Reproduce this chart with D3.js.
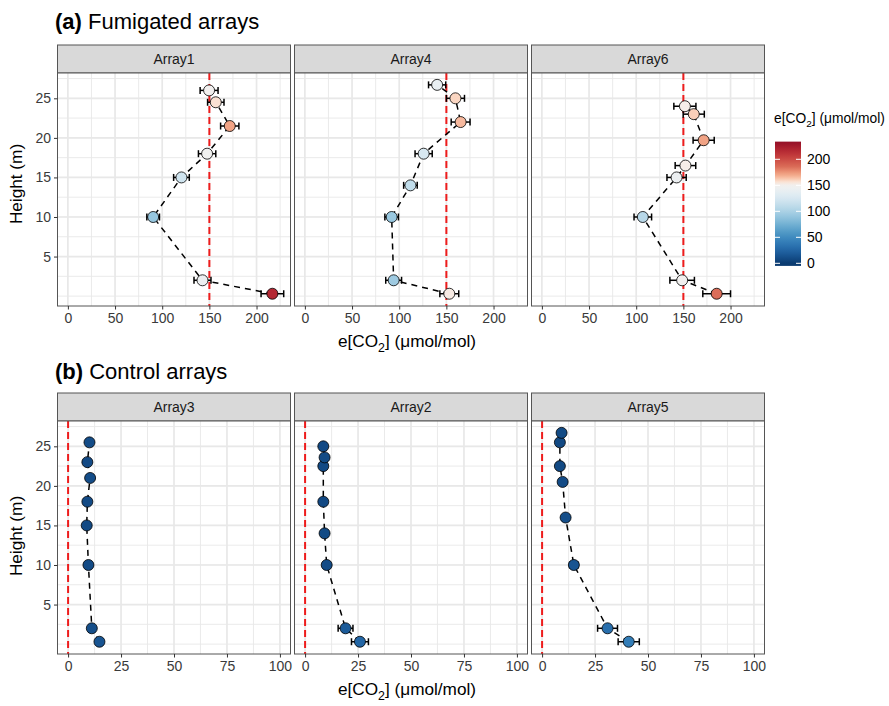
<!DOCTYPE html>
<html><head><meta charset="utf-8">
<script src="https://cdn.jsdelivr.net/npm/d3@7/dist/d3.min.js"></script>
<style>body{margin:0;background:#fff}svg{display:block;font-family:"Liberation Sans",Arial,Helvetica,sans-serif}</style>
</head><body><svg id="c" width="889" height="706"></svg>
<script>
// ---------- data ----------
const fumigatedNames = ["Array1", "Array4", "Array6"];
const controlNames = ["Array3", "Array2", "Array5"];

const heightA1 = [26.0, 24.5, 21.5, 18.0, 15.0, 10.0, 2.0, 0.3];
const co2A1    = [149.7, 156.8, 171.6, 147.6, 120.4, 90.4, 142.7, 216.8];
const seA1     = [9.5, 8.7, 9.7, 9.2, 8.3, 6.7, 9.0, 12.0];

const heightA4 = [26.7, 25.0, 22.0, 18.0, 14.0, 10.0, 2.0, 0.3];
const co2A4    = [140.2, 159.6, 165.1, 125.9, 111.9, 92.0, 94.1, 153.1];
const seA4     = [9.1, 9.6, 10.0, 9.1, 7.2, 7.2, 8.4, 10.0];

const heightA6 = [24.0, 23.0, 19.7, 16.5, 15.0, 10.0, 2.0, 0.3];
const co2A6    = [151.6, 161.0, 171.5, 152.2, 142.8, 107.0, 148.7, 185.3];
const seA6     = [11.7, 11.2, 11.2, 10.9, 10.2, 9.3, 13.0, 14.7];

const heightA3 = [25.5, 23.0, 21.0, 18.0, 15.0, 10.0, 2.0, 0.3];
const co2A3    = [10.1, 9.1, 10.4, 9.1, 8.8, 9.6, 11.2, 14.8];
const seA3     = [1.2, 1.2, 1.5, 1.2, 1.2, 1.2, 1.2, 1.5];

const heightA2 = [25.0, 23.6, 22.5, 18.0, 14.0, 10.0, 2.0, 0.3];
const co2A2    = [8.6, 9.2, 8.6, 8.6, 9.2, 10.2, 19.1, 25.9];
const seA2     = [1.2, 1.2, 1.2, 1.2, 1.5, 1.5, 3.5, 4.0];

const heightA5 = [26.7, 25.5, 22.5, 20.5, 16.0, 10.0, 2.0, 0.3];
const co2A5    = [9.2, 8.4, 8.4, 9.7, 11.1, 15.0, 30.9, 40.9];
const seA5     = [1.2, 1.2, 1.2, 1.2, 1.5, 2.0, 4.7, 5.0];

const fumigatedTicks = [0, 50, 100, 150, 200];
const controlTicks = [0, 25, 50, 75, 100];
const heightTicks = [5, 10, 15, 20, 25];
const legendTicks = [0, 50, 100, 150, 200];
const fumigatedTarget = 150;
const controlTarget = 0;

// ---------- helpers ----------
const series = {
  Array1: [heightA1, co2A1, seA1], Array4: [heightA4, co2A4, seA4], Array6: [heightA6, co2A6, seA6],
  Array3: [heightA3, co2A3, seA3], Array2: [heightA2, co2A2, seA2], Array5: [heightA5, co2A5, seA5]
};
const rows = (name) => {
  const [h, v, e] = series[name];
  return h.map((d, i) => ({h: d, v: v[i], e: e[i]})).sort((a, b) => a.h - b.h);
};

const colorT = d3.scaleLinear().domain([0, 150, 165, 185, 234]).range([0.98, 0.5, 0.34, 0.22, 0.06]).clamp(true);
const fill = v => d3.interpolateRdBu(colorT(v));

const svg = d3.select("#c");
const FONT = '"Liberation Sans",Arial,Helvetica,sans-serif';
const panelLefts = [57.5, 294.5, 531.5];
const panelW = 233;

function co2Label(g, x, y, size, anchor) {
  const t = g.append("text").attr("x", x).attr("y", y).attr("font-size", size)
    .attr("text-anchor", anchor).attr("fill", "#000");
  t.append("tspan").text("e[CO");
  t.append("tspan").attr("dy", size * 0.28).attr("font-size", size * 0.72).text("2");
  t.append("tspan").attr("dy", -size * 0.28).text("] (\u03bcmol/mol)");
}

function drawRow(names, stripTop, panelTop, panelBottom, xDomain, xTicks, xMinor, target, titleBold, titleRest, titleY, yTitleY) {
  const y = d3.scaleLinear().domain([-1.25, 28.2]).range([panelBottom, panelTop]);
  const yMinor = d3.range(0, 28.2, 2.5);
  svg.append("text").attr("x", 55).attr("y", titleY).attr("font-size", 22).attr("fill", "#000")
    .call(t => { t.append("tspan").attr("font-weight", "bold").text(titleBold); t.append("tspan").text(" " + titleRest); });

  names.forEach((name, i) => {
    const x0 = panelLefts[i];
    const x = d3.scaleLinear().domain(xDomain).range([x0, x0 + panelW]);
    const g = svg.append("g");
    // strip
    g.append("rect").attr("x", x0).attr("y", stripTop).attr("width", panelW).attr("height", panelTop - stripTop)
      .attr("fill", "#d9d9d9").attr("stroke", "#555").attr("stroke-width", 1);
    g.append("text").attr("x", x0 + panelW / 2).attr("y", (stripTop + panelTop) / 2 + 5)
      .attr("text-anchor", "middle").attr("font-size", 14).attr("fill", "#1a1a1a").text(name);
    // panel background + grid
    g.append("rect").attr("x", x0).attr("y", panelTop).attr("width", panelW).attr("height", panelBottom - panelTop).attr("fill", "#fff");
    const grid = g.append("g").attr("stroke", "#e8e8e8");
    xMinor.filter(v => v > xDomain[0] && v < xDomain[1]).forEach(v =>
      grid.append("line").attr("x1", x(v)).attr("x2", x(v)).attr("y1", panelTop).attr("y2", panelBottom).attr("stroke-width", 0.9));
    yMinor.forEach(v =>
      grid.append("line").attr("x1", x0).attr("x2", x0 + panelW).attr("y1", y(v)).attr("y2", y(v)).attr("stroke-width", 0.9));
    xTicks.forEach(v =>
      grid.append("line").attr("x1", x(v)).attr("x2", x(v)).attr("y1", panelTop).attr("y2", panelBottom).attr("stroke-width", 1.7));
    heightTicks.forEach(v =>
      grid.append("line").attr("x1", x0).attr("x2", x0 + panelW).attr("y1", y(v)).attr("y2", y(v)).attr("stroke-width", 1.7));
    // target line
    g.append("line").attr("x1", x(target)).attr("x2", x(target)).attr("y1", panelTop).attr("y2", panelBottom)
      .attr("stroke", "#ee1c1c").attr("stroke-width", 2).attr("stroke-dasharray", "7,4");
    const data = rows(name);
    // dashed path
    g.append("path").datum(data)
      .attr("d", d3.line().x(d => x(d.v)).y(d => y(d.h)))
      .attr("fill", "none").attr("stroke", "#000").attr("stroke-width", 1.5).attr("stroke-dasharray", "6,5");
    // error bars
    const eb = g.append("g").attr("stroke", "#000").attr("stroke-width", 1.5);
    data.forEach(d => {
      eb.append("line").attr("x1", x(d.v - d.e)).attr("x2", x(d.v + d.e)).attr("y1", y(d.h)).attr("y2", y(d.h));
      [d.v - d.e, d.v + d.e].forEach(v =>
        eb.append("line").attr("x1", x(v)).attr("x2", x(v)).attr("y1", y(d.h) - 3.5).attr("y2", y(d.h) + 3.5));
    });
    // points
    g.append("g").selectAll("circle").data(data).join("circle")
      .attr("cx", d => x(d.v)).attr("cy", d => y(d.h)).attr("r", 5.5)
      .attr("fill", d => fill(d.v)).attr("stroke", "#000").attr("stroke-width", 0.8);
    // border
    g.append("rect").attr("x", x0).attr("y", panelTop).attr("width", panelW).attr("height", panelBottom - panelTop)
      .attr("fill", "none").attr("stroke", "#555").attr("stroke-width", 1);
    // x axis
    const xa = g.append("g").attr("transform", `translate(0,${panelBottom})`)
      .call(d3.axisBottom(x).tickValues(xTicks).tickSize(3.5).tickPadding(4).tickFormat(d3.format("d")));
    xa.select(".domain").remove();
    xa.selectAll(".tick line").attr("stroke", "#333");
    xa.selectAll("text").attr("font-size", 14).attr("fill", "#3a3a3a").attr("font-family", FONT);
    if (i === 0) {
      const ya = g.append("g").attr("transform", `translate(${x0},0)`)
        .call(d3.axisLeft(y).tickValues(heightTicks).tickSize(3.5).tickPadding(3).tickFormat(d3.format("d")));
      ya.select(".domain").remove();
      ya.selectAll(".tick line").attr("stroke", "#333");
      ya.selectAll("text").attr("font-size", 14).attr("fill", "#3a3a3a").attr("font-family", FONT);
    }
  });
  // axis titles
  co2Label(svg, 407, panelBottom + 41, 17.2, "middle");
  svg.append("text").attr("transform", `translate(22,${yTitleY}) rotate(-90)`)
    .attr("text-anchor", "middle").attr("font-size", 17.2).attr("fill", "#000").text("Height (m)");
}

drawRow(fumigatedNames, 45, 73, 306, [-11, 236], fumigatedTicks, d3.range(25, 236, 50), fumigatedTarget,
  "(a)", "Fumigated arrays", 29, 184);
drawRow(controlNames, 393, 421, 654, [-5, 105], controlTicks, d3.range(12.5, 105, 25), controlTarget,
  "(b)", "Control arrays", 379, 536);

// ---------- legend ----------
const lg = svg.append("g");
co2Label(lg, 774, 123, 13.8, "start");
const ly = d3.scaleLinear().domain([0, 200]).range([263.3, 159.3]);
const barTop = ly(234), barBot = ly(-5);
const defs = svg.append("defs");
const grad = defs.append("linearGradient").attr("id", "lgrad").attr("x1", 0).attr("y1", 1).attr("x2", 0).attr("y2", 0);
d3.range(0, 41).forEach(k => {
  const v = -5 + (239 * k) / 40;
  grad.append("stop").attr("offset", k / 40).attr("stop-color", fill(v));
});
lg.append("rect").attr("x", 775).attr("y", barTop).attr("width", 26).attr("height", barBot - barTop).attr("fill", "url(#lgrad)");
legendTicks.forEach(v => {
  lg.append("line").attr("x1", 775).attr("x2", 780).attr("y1", ly(v)).attr("y2", ly(v)).attr("stroke", "#fff").attr("stroke-width", 1);
  lg.append("line").attr("x1", 796).attr("x2", 801).attr("y1", ly(v)).attr("y2", ly(v)).attr("stroke", "#fff").attr("stroke-width", 1);
  lg.append("text").attr("x", 807).attr("y", ly(v) + 5).attr("font-size", 14).attr("fill", "#000").text(v);
});
</script></body></html>
